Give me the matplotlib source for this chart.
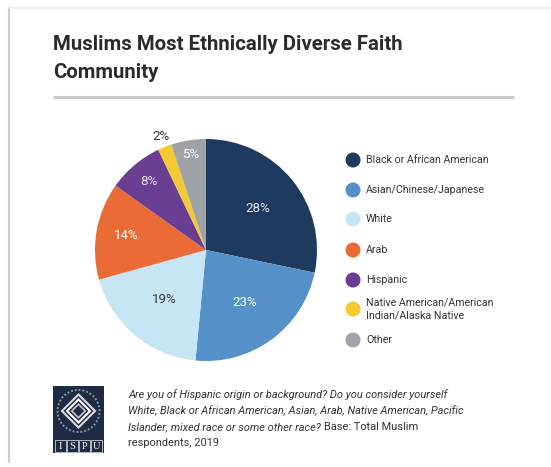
import matplotlib
matplotlib.use('Agg')
import matplotlib.pyplot as plt
import numpy as np
from matplotlib.patches import Rectangle, Polygon, Circle

W, H = 551, 467

categories = ["Black or African American", "Asian/Chinese/Japanese", "White", "Arab",
              "Hispanic", "Native American/American\nIndian/Alaska Native", "Other"]
shares = [28, 23, 19, 14, 8, 2, 5]
colors = ["#1f3a5f", "#5591c8", "#c6e6f6", "#ea6b35", "#6a3f93", "#f5c933", "#9fa3a8"]
label_colors = ["#dfe6ef", "#ffffff", "#333333", "#ffffff", "#e6dff0", "#333333", "#ffffff"]
label_radius = [0.60, 0.59, 0.58, 0.73, 0.80, 1.10, 0.87]

title_lines = ["Muslims Most Ethnically Diverse Faith", "Community"]
note_italic = ["Are you of Hispanic origin or background? Do you consider yourself",
               "White, Black or African American, Asian, Arab, Native American, Pacific",
               "Islander, mixed race or some other race? "]
note_plain = ["", "", "Base: Total Muslim", "respondents, 2019"]

FONT = "Roboto"

fig = plt.figure(figsize=(W / 100, H / 100), dpi=100)
fig.patch.set_facecolor("white")

# pixel-coordinate layer for frame, title, legend and footer
bg = fig.add_axes([0, 0, 1, 1])
bg.set_xlim(0, W)
bg.set_ylim(H, 0)
bg.axis("off")

# card edges
bg.plot([9, 9], [8, 462], color="#c9c9c9", lw=1.6)
bg.plot([9, W], [8, 8], color="#ececec", lw=1.2)

for line, y in zip(title_lines, [45, 73]):
    bg.text(53, y, line, fontsize=14.7, fontweight="bold", family=FONT, color="#2b2b2b",
            va="center", ha="left")
bg.plot([53, 514], [97, 97], color="#c8c9cc", lw=2.2, solid_capstyle="butt")

# legend
legend_y = [160, 190, 219, 250, 280, 309, 340]
for cat, col, y in zip(categories, colors, legend_y):
    bg.add_patch(Circle((353, y), 7.5, color=col, lw=0))
    bg.text(366, y, cat, fontsize=7.7, family=FONT, color="#333333", va="center",
            ha="left", linespacing=1.3)

# ISPU logo
navy = "#1e2b44"
bg.add_patch(Rectangle((53, 386), 51, 67, color=navy, lw=0))
cx, cy = 78.5, 411
bg.add_patch(Circle((cx, cy), 21, fill=False, ec="#8a93a3", lw=1.4, ls=(0, (1, 1))))
for r, c in [(18, "#d9d9d9"), (15, navy), (13, "#ffffff"), (10, navy), (8, "#bfbfbf"), (5.5, navy)]:
    bg.add_patch(Polygon([(cx, cy - r), (cx + r, cy), (cx, cy + r), (cx - r, cy)], color=c, lw=0))
for i, ch in enumerate("ISPU"):
    x0 = 55 + i * 12
    bg.add_patch(Rectangle((x0, 440), 11, 12, fill=False, ec="#d0d0d0", lw=0.6))
    bg.text(x0 + 5.5, 446.5, ch, fontsize=7.5, family="Liberation Serif", color="white",
            ha="center", va="center")

# footer note
line_y = [395, 411, 427, 443]
for i, y in enumerate(line_y):
    x = 128
    if i < len(note_italic):
        t = bg.text(x, y, note_italic[i], fontsize=7.9, family=FONT, style="italic",
                    color="#333333", va="center", ha="left")
        if note_plain[i]:
            fig.canvas.draw()
            bb = t.get_window_extent()
            x = 128 + bb.width
    if note_plain[i]:
        bg.text(x, y, note_plain[i], fontsize=7.9, family=FONT, color="#333333",
                va="center", ha="left")

# pie
cxp, cyp, rad = 206, 250, 111
ax = fig.add_axes([(cxp - rad) / W, (H - cyp - rad) / H, 2 * rad / W, 2 * rad / H])
wedges, _ = ax.pie(shares, colors=colors, startangle=90, counterclock=False,
                   wedgeprops=dict(linewidth=0), radius=1)
for w, val, lc, lr in zip(wedges, shares, label_colors, label_radius):
    ang = np.deg2rad((w.theta1 + w.theta2) / 2)
    ax.text(lr * np.cos(ang), lr * np.sin(ang), f"{val}%", fontsize=9.6, family=FONT,
            color=lc, ha="center", va="center")
ax.set_xlim(-1, 1)
ax.set_ylim(-1, 1)
ax.set_aspect("equal")
ax.axis("off")

fig.savefig("out.png", dpi=100, facecolor="white")
